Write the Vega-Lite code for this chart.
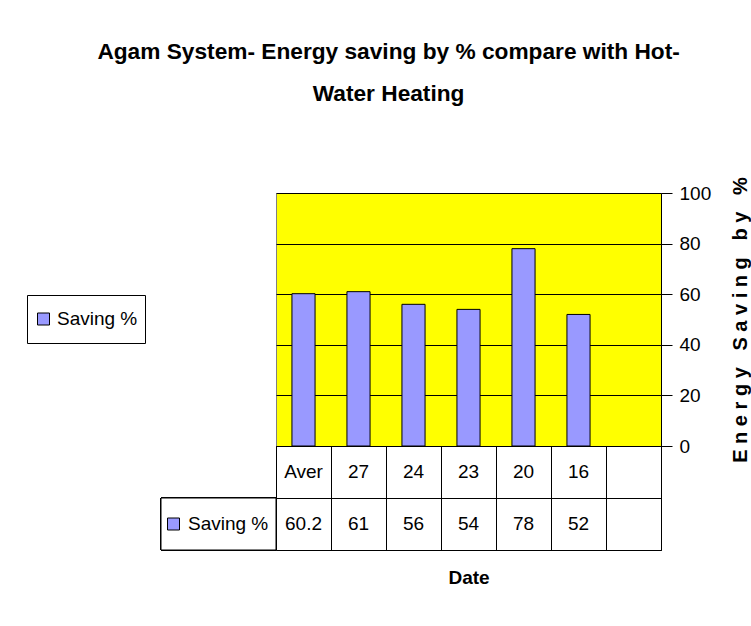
{
  "$schema": "https://vega.github.io/schema/vega-lite/v6.json",
  "background": "white",
  "padding": {"left": 26, "top": 41, "right": 5, "bottom": 5},
  "title": {
    "text": ["Agam System- Energy saving  by % compare with Hot-", "Water Heating"],
    "font": "Liberation Sans",
    "fontSize": 22.7,
    "fontWeight": "bold",
    "color": "black",
    "lineHeight": 42,
    "anchor": "middle",
    "offset": 70
  },
  "datasets": {
    "saving": [
      {"date": "Aver", "saving": 60.2, "series": "Saving %"},
      {"date": "27", "saving": 61, "series": "Saving %"},
      {"date": "24", "saving": 56, "series": "Saving %"},
      {"date": "23", "saving": 54, "series": "Saving %"},
      {"date": "20", "saving": 78, "series": "Saving %"},
      {"date": "16", "saving": 52, "series": "Saving %"},
      {"date": "", "saving": null, "series": "Saving %"}
    ]
  },
  "data": {"name": "saving"},
  "columns": 2,
  "spacing": 0,
  "bounds": "flush",
  "resolve": {
    "scale": {"color": "independent", "x": "independent", "y": "independent"},
    "legend": {"color": "independent"}
  },
  "concat": [
    {
      "width": 115,
      "height": 253,
      "view": {"stroke": null},
      "mark": {"type": "point", "opacity": 0},
      "encoding": {}
    },
    {
      "width": 385,
      "height": 253,
      "view": {"fill": "#FFFF00", "stroke": "#808080"},
      "mark": {"type": "bar", "stroke": "black", "strokeWidth": 1},
      "encoding": {
        "x": {
          "field": "date", "type": "nominal", "sort": null,
          "scale": {"domain": ["Aver", "27", "24", "23", "20", "16", ""], "paddingInner": 0.58, "paddingOuter": 0.29},
          "axis": null
        },
        "y": {
          "field": "saving", "type": "quantitative",
          "scale": {"domain": [0, 100]},
          "axis": {
            "orient": "right",
            "values": [0, 20, 40, 60, 80, 100],
            "grid": true, "gridColor": "black", "gridOpacity": 1,
            "domainColor": "black", "tickColor": "black", "tickSize": 11,
            "labelFont": "Liberation Sans",
            "labelFontSize": 19, "labelColor": "black", "labelPadding": 7,
            "title": "E\u00a0n\u00a0e\u00a0r\u00a0g\u00a0y\u00a0\u00a0\u00a0S\u00a0a\u00a0v\u00a0i\u00a0n\u00a0g\u00a0\u00a0\u00a0b\u00a0y\u00a0\u00a0\u00a0%",
            "titleFont": "Liberation Sans",
            "titleFontSize": 20, "titleFontWeight": "bold", "titleColor": "black",
            "titleAngle": 270, "titlePadding": 40
          }
        },
        "color": {
          "field": "series", "type": "nominal",
          "scale": {"range": ["#9999FF"]},
          "legend": {
            "orient": "none", "legendX": -249, "legendY": 102,
            "title": null, "strokeColor": "black", "fillColor": "white", "padding": 7,
            "clipHeight": 34,
            "symbolType": "square", "symbolSize": 144, "symbolStrokeColor": "black", "symbolStrokeWidth": 1,
            "labelFont": "Liberation Sans",
            "labelFontSize": 19, "labelColor": "black", "labelOffset": 4
          }
        }
      }
    },
    {
      "width": 115,
      "height": 104,
      "view": {"stroke": null},
      "layer": [
        {
          "mark": {"type": "rect", "fill": "white", "stroke": "black", "strokeWidth": 1},
          "encoding": {
            "y": {"datum": "Saving %", "type": "nominal", "scale": {"domain": ["Date", "Saving %"], "paddingInner": 0, "paddingOuter": 0}, "axis": null}
          }
        },
        {
          "mark": {"type": "square", "opacity": 0, "filled": true},
          "encoding": {
            "color": {
              "field": "series", "type": "nominal",
              "scale": {"range": ["#9999FF"]},
              "legend": {
                "orient": "none", "legendX": 3, "legendY": 64,
                "title": null, "padding": 0, "symbolOpacity": 1, "clipHeight": 28,
                "symbolType": "square", "symbolSize": 144, "symbolStrokeColor": "black", "symbolStrokeWidth": 1,
                "symbolFillColor": "#9999FF",
                "labelFont": "Liberation Sans",
                "labelFontSize": 19, "labelColor": "black", "labelOffset": 5
              }
            }
          }
        }
      ]
    },
    {
      "width": 385,
      "height": 104,
      "view": {"stroke": "black"},
      "encoding": {
        "x": {
          "field": "date", "type": "nominal", "sort": null,
          "scale": {"domain": ["Aver", "27", "24", "23", "20", "16", ""], "paddingInner": 0, "paddingOuter": 0},
          "axis": {
            "orient": "bottom", "labels": false, "ticks": false, "domain": false,
            "grid": true, "tickBand": "extent", "gridColor": "black", "gridOpacity": 1,
            "title": "Date",
            "titleFont": "Liberation Sans",
            "titleFontSize": 19, "titleFontWeight": "bold", "titleColor": "black", "titlePadding": 18
          }
        }
      },
      "layer": [
        {
          "mark": {"type": "text", "font": "Liberation Sans", "fontSize": 19, "color": "black"},
          "encoding": {
            "y": {
              "datum": "Date", "type": "nominal",
              "scale": {"domain": ["Date", "Saving %"], "paddingInner": 0, "paddingOuter": 0},
              "axis": {"orient": "left", "labels": false, "ticks": false, "domain": false, "title": null, "grid": true, "tickBand": "extent", "gridColor": "black", "gridOpacity": 1}
            },
            "text": {"field": "date"}
          }
        },
        {
          "transform": [{"filter": "datum.saving != null"}],
          "mark": {"type": "text", "font": "Liberation Sans", "fontSize": 19, "color": "black"},
          "encoding": {
            "y": {
              "datum": "Saving %", "type": "nominal",
              "axis": {"orient": "left", "labels": false, "ticks": false, "domain": false, "title": null, "grid": true, "tickBand": "extent", "gridColor": "black", "gridOpacity": 1}
            },
            "text": {"field": "saving", "type": "quantitative"}
          }
        }
      ]
    }
  ]
}
